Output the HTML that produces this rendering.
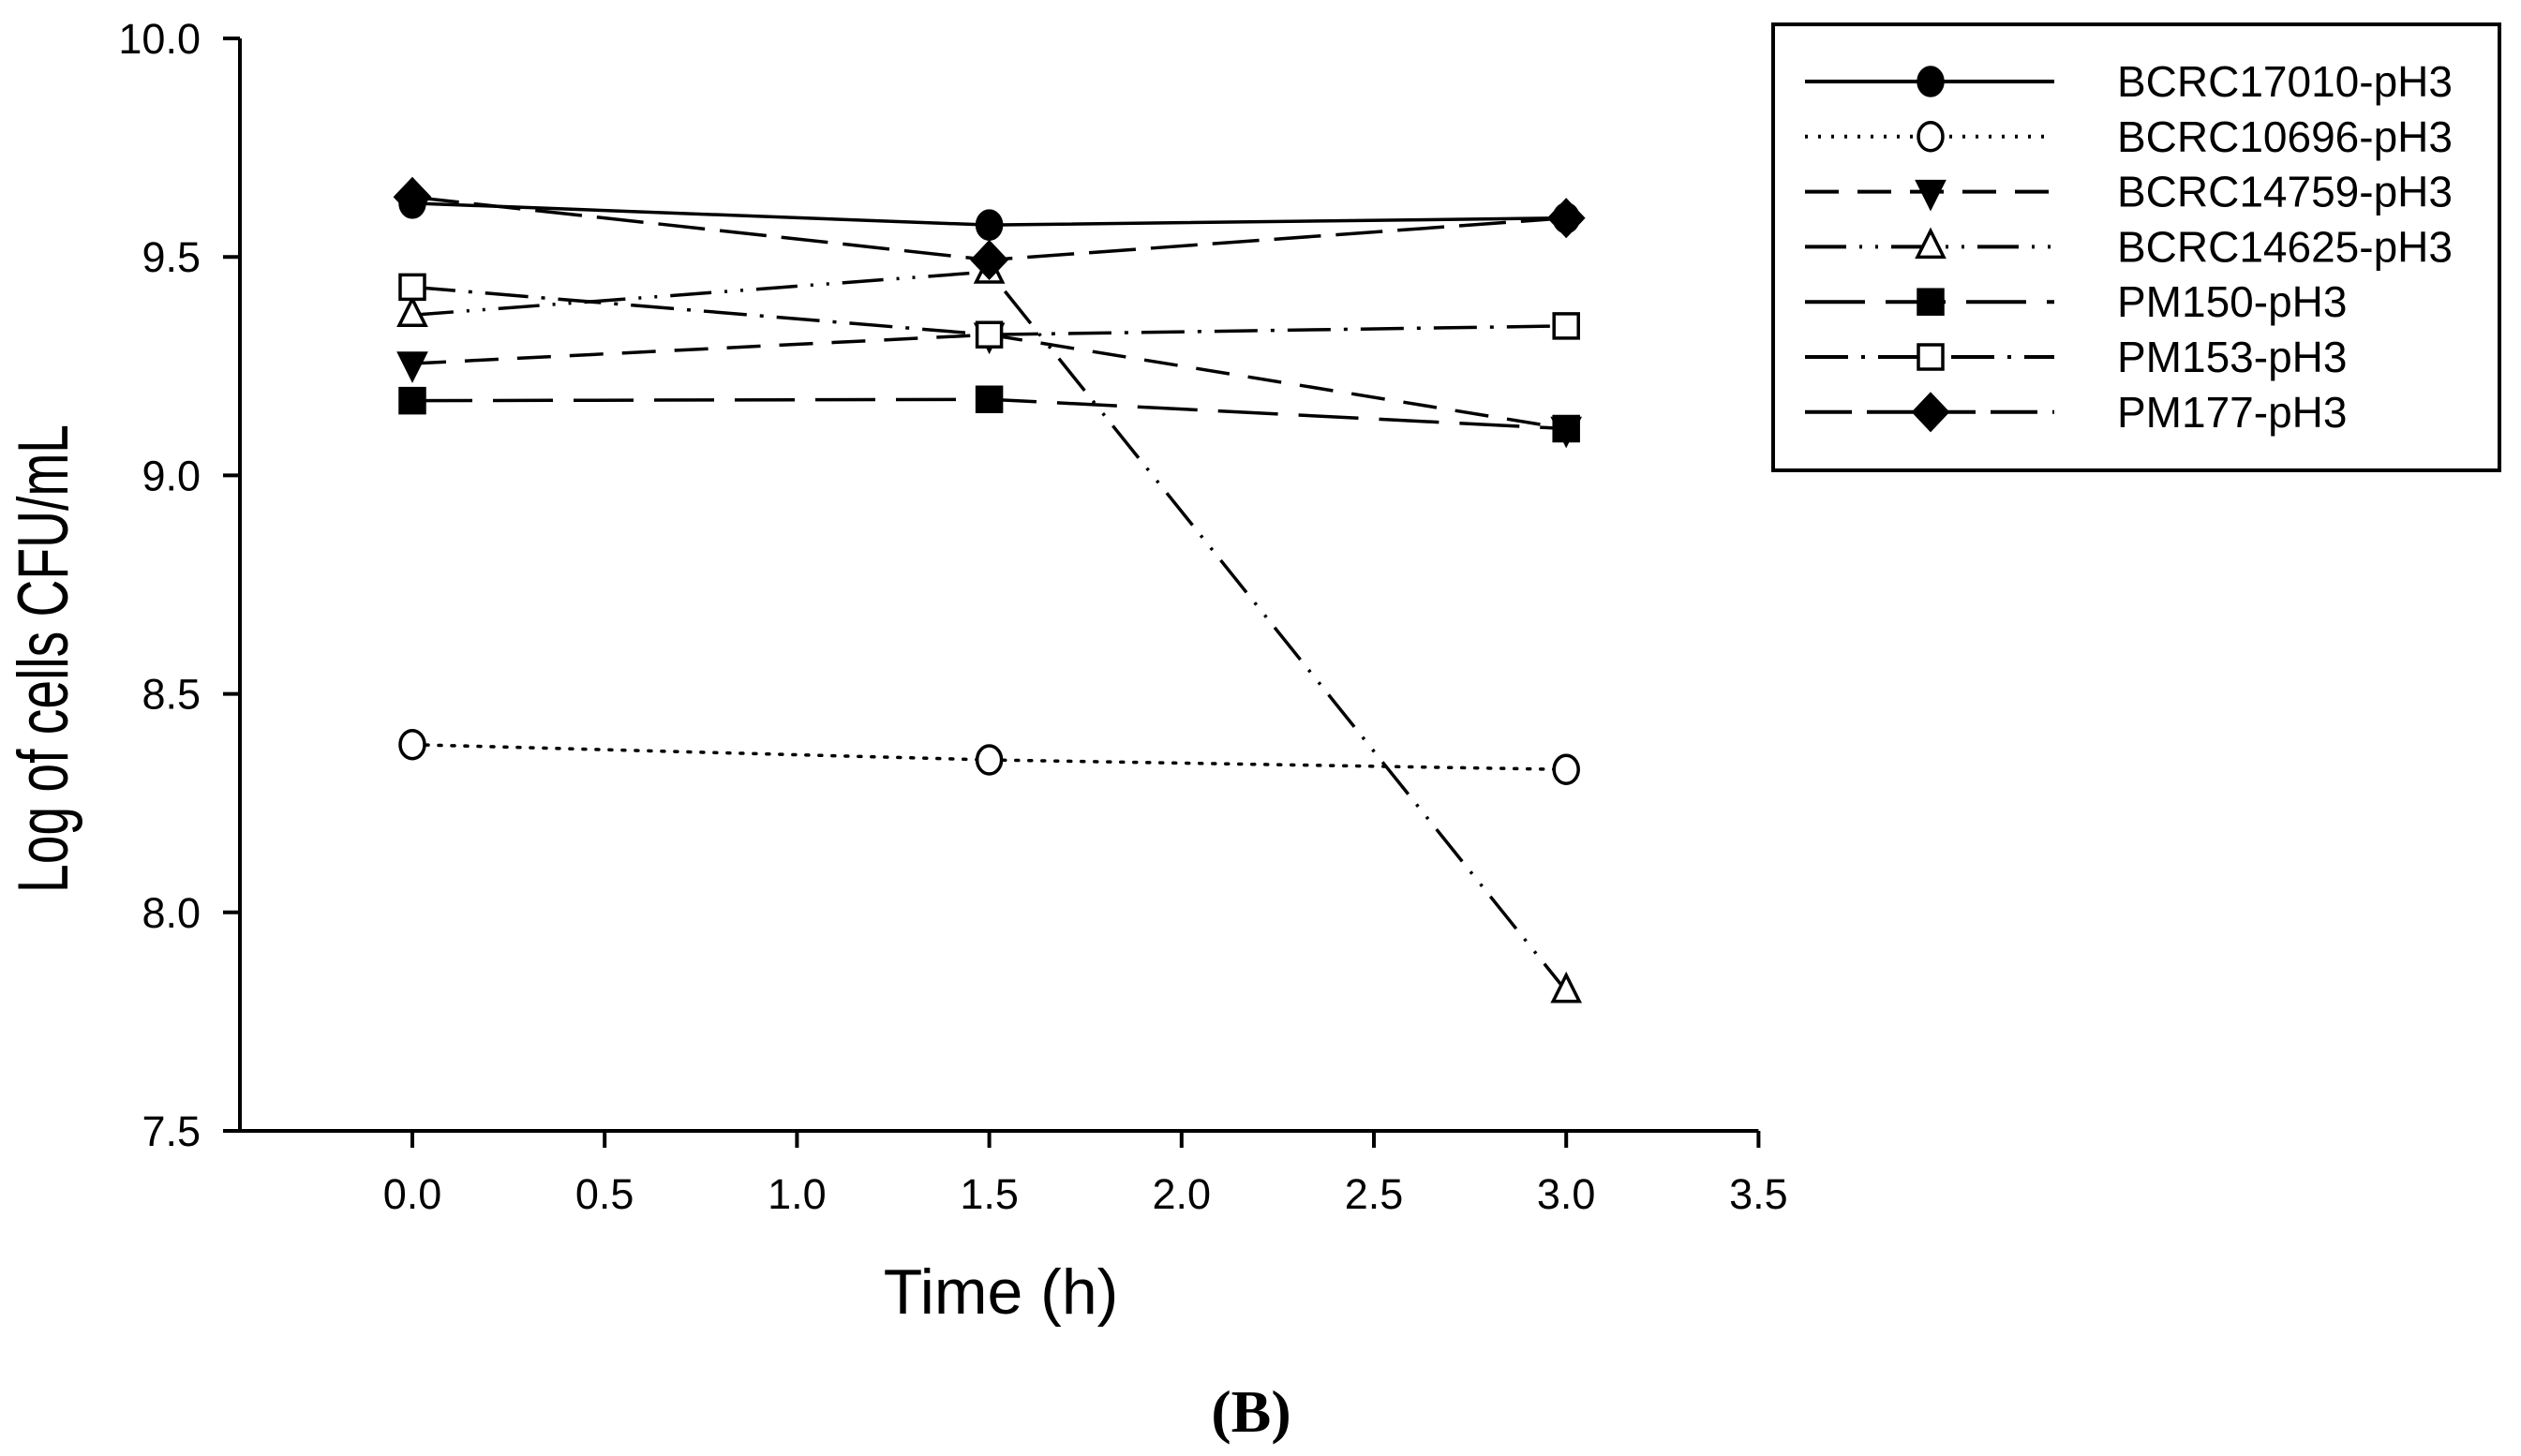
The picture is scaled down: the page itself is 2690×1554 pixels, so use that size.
<!DOCTYPE html>
<html><head><meta charset="utf-8"><style>
html,body{margin:0;padding:0;background:#fff;}
svg{display:block;}
text{font-family:"Liberation Sans",Arial,sans-serif;fill:#000;}
</style></head><body>
<svg id="chart" width="2690" height="1554" viewBox="0 0 2690 1554" xmlns="http://www.w3.org/2000/svg">
<g id="axes"></g>
<g id="series"></g>
<g id="legend"></g>
<text x="72" y="703" font-size="76" text-anchor="middle" textLength="500" lengthAdjust="spacingAndGlyphs" transform="rotate(-90 72 703)">Log of cells CFU/mL</text>
<text x="1068" y="1402" font-size="68" text-anchor="middle">Time (h)</text>
<text x="1335" y="1528" font-size="64" font-weight="bold" text-anchor="middle" style="font-family:'Liberation Serif',serif">(B)</text>
</svg>
<script>
const times = [0, 1.5, 3.0];
const seriesNames = ["BCRC17010-pH3","BCRC10696-pH3","BCRC14759-pH3","BCRC14625-pH3","PM150-pH3","PM153-pH3","PM177-pH3"];
const s17010 = [9.623, 9.573, 9.589];
const s10696 = [8.384, 8.349, 8.327];
const s14759 = [9.256, 9.322, 9.107];
const s14625 = [9.367, 9.466, 7.82];
const pm150 = [9.171, 9.174, 9.107];
const pm153 = [9.431, 9.322, 9.342];
const pm177 = [9.637, 9.493, 9.589];
const xTicks = ["0.0","0.5","1.0","1.5","2.0","2.5","3.0","3.5"];
const yTicks = ["7.5","8.0","8.5","9.0","9.5","10.0"];

const NS = "http://www.w3.org/2000/svg";
function xS(v){ return 440 + v * 410.4; }
function yS(v){ return 1207 - (v - 7.5) * 466.4; }
function mk(tag, attrs, parent){
  const e = document.createElementNS(NS, tag);
  for (const k in attrs) e.setAttribute(k, attrs[k]);
  parent.appendChild(e); return e;
}
const axes = document.getElementById('axes');
const ser = document.getElementById('series');
const leg = document.getElementById('legend');

let a = mk('path', {d:`M256 ${yS(10)} V1207 H${xS(3.5)}`, fill:'none', stroke:'#000', 'stroke-width':4}, axes);


yTicks.forEach(t => {
  const y = yS(parseFloat(t));
  const l = mk('line', {x1:238, x2:256, y1:y, y2:y, stroke:'#000', 'stroke-width':4}, axes);
  
  
  const tx = mk('text', {x:214, y:y+16, 'font-size':45, 'text-anchor':'end'}, axes);
  tx.textContent = t;
  
  
});
xTicks.forEach(t => {
  const x = xS(parseFloat(t));
  const l = mk('line', {x1:x, x2:x, y1:1207, y2:1225, stroke:'#000', 'stroke-width':4}, axes);
  
  
  const tx = mk('text', {x:x, y:1290, 'font-size':45, 'text-anchor':'middle'}, axes);
  tx.textContent = t;
  
  
});

const allData = [s17010, s10696, s14759, s14625, pm150, pm153, pm177];
const dashes = ["", "3,11", "36,20", "44,14,3,14,3,14", "64,22", "46,14,4,14", "50,16"];
const markers = ["circle","ocircle","dtri","otri","square","osquare","diamond"];

function marker(type, x, y, parent){
  const filled = !type.startsWith('o');
  const st = {stroke:'#000', 'stroke-width':3.5, fill: filled ? '#000' : '#fff'};
  let e;
  if (type === 'circle' || type === 'ocircle') e = mk('ellipse', Object.assign({cx:x, cy:y, rx:13, ry:15}, st), parent);
  else if (type === 'square' || type === 'osquare') e = mk('rect', Object.assign({x:x-13, y:y-13, width:26, height:26}, st), parent);
  else if (type === 'diamond') e = mk('polygon', Object.assign({points:`${x},${y-19} ${x+18},${y} ${x},${y+19} ${x-18},${y}`}, st), parent);
  else if (type === 'dtri') e = mk('polygon', Object.assign({points:`${x-14},${y-11} ${x+14},${y-11} ${x},${y+17}`}, st), parent);
  else e = mk('polygon', Object.assign({points:`${x},${y-17} ${x+14},${y+11} ${x-14},${y+11}`}, st), parent);
  return e;
}

allData.forEach((vals, i) => {
  const g = mk('g', {}, ser);
  
  
  const pts = vals.map((v, j) => `${xS(times[j])},${yS(v)}`).join(' ');
  const attrs = {points:pts, fill:'none', stroke:'#000', 'stroke-width':3.5};
  if (dashes[i]) attrs['stroke-dasharray'] = dashes[i];
  if (i === 1) attrs['stroke-linecap'] = 'round';
  const pl = mk('polyline', attrs, g);
  
  
  vals.forEach((v, j) => {
    const m = marker(markers[i], xS(times[j]), yS(v), g);
    
    
  });
});

const box = mk('rect', {x:1892, y:26, width:775, height:476, fill:'#fff', stroke:'#000', 'stroke-width':4}, leg);


seriesNames.forEach((n, i) => {
  const y = 87 + i * 58.8;
  const g = mk('g', {}, leg);
  
  
  const attrs = {x1:1926, x2:2192, y1:y, y2:y, stroke:'#000', 'stroke-width':4};
  if (dashes[i]) attrs['stroke-dasharray'] = dashes[i];
  mk('line', attrs, g);
  marker(markers[i], 2060, y, g);
  const t = mk('text', {x:2259, y:y+16, 'font-size':46}, g);
  t.textContent = n;
});
</script>
</body></html>
